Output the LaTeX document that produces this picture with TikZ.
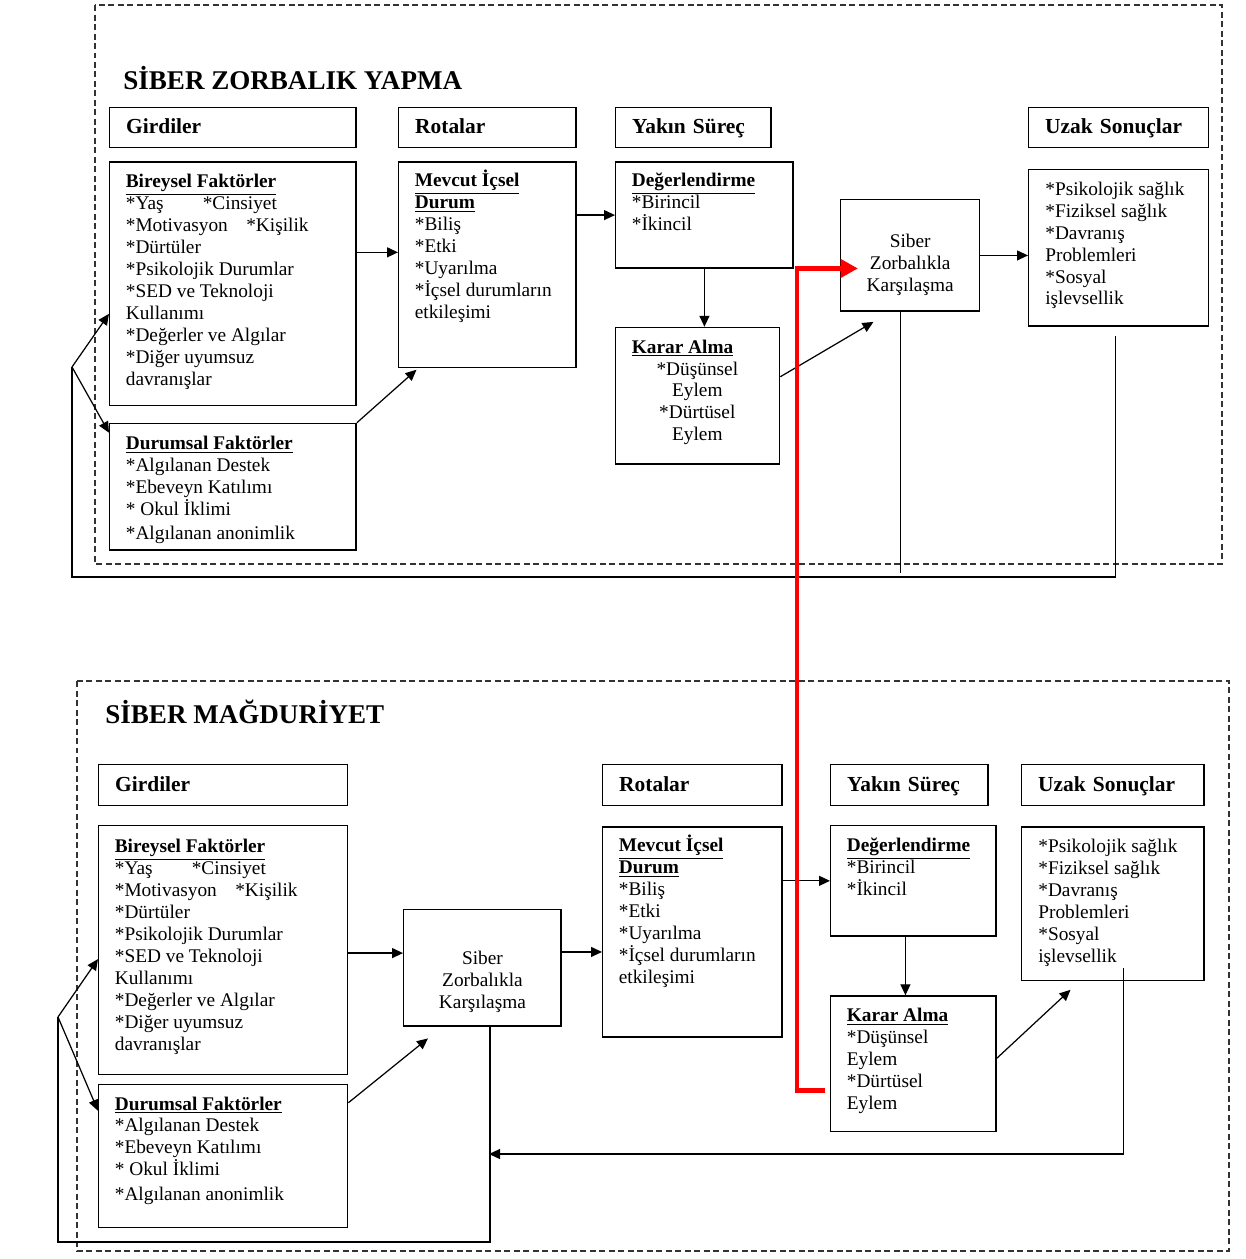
\documentclass[tikz,border=0pt]{standalone}
\usepackage{fontspec}
\setmainfont{Liberation Serif}
\usepackage{tikz}
\usetikzlibrary{positioning,arrows.meta}

\tikzset{
    frame/.style={draw=black!80, line width=0.7pt, dash pattern=on 0.12cm off 0.07cm},
    title/.style={anchor=base west, inner sep=0pt, font=\bfseries\fontsize{15.4}{18}\selectfont},
    head/.style={draw, line width=0.8pt, anchor=north west, minimum height=0.8cm, inner xsep=0.33cm, inner ysep=0pt, text width=#1, text height=0.68em, text depth=0pt, align=left, font=\bfseries\fontsize{12.2}{14}\selectfont},
    body/.style 2 args={draw, line width=0.8pt, anchor=north west, minimum width=#1, minimum height=#2, inner sep=0pt},
    txt/.style={align=left, inner sep=0pt, font=\fontsize{11}{12.5}\selectfont},
    line/.style={draw, line width=0.7pt},
    arr/.style={line, -{Triangle[length=0.22cm,width=0.2cm]}},
    redarr/.style={draw=red, line width=2.8pt, -{Triangle[length=0.35cm,width=0.36cm]}},
}

\begin{document}
\begin{tikzpicture}[x=0.02cm, y=-0.02cm]

    \useasboundingbox (0,0) rectangle (1246,1259);

    % frames
    \draw[frame] (95,5) rectangle (1222,564);
    \draw[frame] (77,681) rectangle (1229,1251);

    % titles
    \node[title] (ttl1) at (123,89) {SİBER ZORBALIK YAPMA};
    \node[title] (ttl2) at (105,723) {SİBER MAĞDURİYET};

    % headers, top
    \node[head=4.27cm] (gir1) at (109,107) {Girdiler};
    \node[head=2.89cm] (rot1) at (398,107) {Rotalar};
    \node[head=2.45cm] (yak1) at (615,107) {Yakın Süreç};
    \node[head=2.94cm] (uza1) at (1028,107) {Uzak Sonuçlar};

    % boxes, top
    \node[below=0.26cm of gir1.south west, body={4.93cm}{4.87cm}] (bir1) {};
    \node[below=0.33cm of bir1.south west, body={4.93cm}{2.53cm}] (dur1) {};
    \node[below=0.26cm of rot1.south west, body={3.55cm}{4.11cm}] (mev1) {};
    \node[below=0.26cm of yak1.south west, body={3.55cm}{2.12cm}] (deg1) {};
    \node[below=1.16cm of deg1.south west, body={3.28cm}{2.73cm}] (kar1) {};
    \node[body={2.78cm}{2.23cm}] (sib1) at (840,199) {};
    \node[below=0.41cm of uza1.south west, body={3.6cm}{3.13cm}] (son1) {};

    % texts, top
    \node[txt, below right=0.25cm and 0.33cm of bir1.north west] (bir1t) {\underline{\textbf{Bireysel Faktörler}}\\{}\makebox[1.54cm][l]{*Yaş}*Cinsiyet\\{}\makebox[2.41cm][l]{*Motivasyon}*Kişilik\\{}*Dürtüler\\{}*Psikolojik Durumlar\\{}*SED ve Teknoloji\\{}Kullanımı\\{}*Değerler ve Algılar\\{}*Diğer uyumsuz\\{}davranışlar};
    \node[txt, below right=0.26cm and 0.33cm of dur1.north west] (dur1t) {\underline{\textbf{Durumsal Faktörler}}\\{}*Algılanan Destek\\{}*Ebeveyn Katılımı\\{}* Okul İklimi\\[0.04cm]{}*Algılanan anonimlik};
    \node[txt, below right=0.17cm and 0.33cm of mev1.north west] (mev1t) {\underline{\textbf{Mevcut İçsel}}\\{}\underline{\textbf{Durum}}\\{}*Biliş\\{}*Etki\\{}*Uyarılma\\{}*İçsel durumların\\{}etkileşimi};
    \node[txt, below right=0.23cm and 0.33cm of deg1.north west] (deg1t) {\underline{\textbf{Değerlendirme}}\\{}*Birincil\\{}*İkincil};
    \node[txt, align=center, below right=0.25cm and 0.33cm of kar1.north west] (kar1t) {\makebox[2.62cm][l]{\underline{\textbf{Karar Alma}}}\\{}*Düşünsel\\{}Eylem\\{}*Dürtüsel\\{}Eylem};
    \node[txt, align=center] (sib1t) at ([yshift=-0.18cm]sib1.center) {Siber\\{}Zorbalıkla\\{}Karşılaşma};
    \node[txt, below right=0.25cm and 0.34cm of son1.north west] (son1t) {*Psikolojik sağlık\\{}*Fiziksel sağlık\\{}*Davranış\\{}Problemleri\\{}*Sosyal\\{}işlevsellik};

    % the connections, top
    \draw[arr] ([yshift=0.63cm]bir1.east) -- ([yshift=0.63cm]bir1.east -| mev1.west);
    \draw[arr] (dur1.north east) -- ([xshift=0.37cm,yshift=-0.03cm]mev1.south west);
    \draw[arr] (mev1.east |- deg1.west) -- (deg1.west);
    \draw[arr] (deg1.south) -- (deg1.south |- kar1.north);
    \draw[arr] ([yshift=0.38cm]kar1.east) -- ([xshift=0.67cm,yshift=-0.2cm]sib1.south west);
    \draw[arr] (sib1.east) -- (sib1.east -| son1.west);

    % feedback, top
    \coordinate (fb1) at (72,367);
    \coordinate (fb1b) at (72,577);
    \draw[line] ([xshift=-0.07cm,yshift=-0.19cm]son1.south) |- (fb1b) -- (fb1);
    \draw[line] ([xshift=-0.19cm]sib1.south) -- ++(0,-5.22cm);
    \draw[arr] (fb1) -- ([yshift=-0.6cm]bir1.west);
    \draw[arr] (fb1) -- ([yshift=-0.2cm]dur1.north west);

    % headers, bottom
    \node[head=4.32cm, minimum height=0.82cm] (gir2) at (98,764) {Girdiler};
    \node[head=2.93cm, minimum height=0.82cm] (rot2) at (602,764) {Rotalar};
    \node[head=2.49cm, minimum height=0.82cm] (yak2) at (830,764) {Yakın Süreç};
    \node[head=2.99cm, minimum height=0.82cm] (uza2) at (1021,764) {Uzak Sonuçlar};

    % boxes, bottom
    \node[below=0.37cm of gir2.south west, body={4.98cm}{4.98cm}] (bir2) {};
    \node[below=0.17cm of bir2.south west, body={4.98cm}{2.86cm}] (dur2) {};
    \node[body={3.15cm}{2.33cm}] (sib2) at (403,909) {};
    \node[below=0.4cm of rot2.south west, body={3.59cm}{4.2cm}] (mev2) {};
    \node[below=0.37cm of yak2.south west, body={3.31cm}{2.21cm}] (deg2) {};
    \node[below=1.17cm of deg2.south west, body={3.31cm}{2.71cm}] (kar2) {};
    \node[below=0.4cm of uza2.south west, body={3.65cm}{3.07cm}] (son2) {};

    % texts, bottom
    \node[txt, below right=0.28cm and 0.33cm of bir2.north west] (bir2t) {\underline{\textbf{Bireysel Faktörler}}\\{}\makebox[1.54cm][l]{*Yaş}*Cinsiyet\\{}\makebox[2.41cm][l]{*Motivasyon}*Kişilik\\{}*Dürtüler\\{}*Psikolojik Durumlar\\{}*SED ve Teknoloji\\{}Kullanımı\\{}*Değerler ve Algılar\\{}*Diğer uyumsuz\\{}davranışlar};
    \node[txt, below right=0.25cm and 0.33cm of dur2.north west] (dur2t) {\underline{\textbf{Durumsal Faktörler}}\\{}*Algılanan Destek\\{}*Ebeveyn Katılımı\\{}* Okul İklimi\\[0.06cm]{}*Algılanan anonimlik};
    \node[txt, align=center] (sib2t) at ([yshift=-0.28cm]sib2.center) {Siber\\{}Zorbalıkla\\{}Karşılaşma};
    \node[txt, below right=0.17cm and 0.33cm of mev2.north west] (mev2t) {\underline{\textbf{Mevcut İçsel}}\\{}\underline{\textbf{Durum}}\\{}*Biliş\\{}*Etki\\{}*Uyarılma\\{}*İçsel durumların\\{}etkileşimi};
    \node[txt, below right=0.25cm and 0.33cm of deg2.north west] (deg2t) {\underline{\textbf{Değerlendirme}}\\{}*Birincil\\{}*İkincil};
    \node[txt, below right=0.25cm and 0.33cm of kar2.north west] (kar2t) {\underline{\textbf{Karar Alma}}\\{}*Düşünsel\\{}Eylem\\{}*Dürtüsel\\{}Eylem};
    \node[txt, below right=0.25cm and 0.34cm of son2.north west] (son2t) {*Psikolojik sağlık\\{}*Fiziksel sağlık\\{}*Davranış\\{}Problemleri\\{}*Sosyal\\{}işlevsellik};

    % the connections, bottom
    \draw[arr] ([yshift=-0.06cm]bir2.east) -- ([yshift=-0.06cm]bir2.east -| sib2.west);
    \draw[arr] ([yshift=-0.38cm]dur2.north east) -- ([xshift=0.5cm,yshift=-0.23cm]sib2.south west);
    \draw[arr] ([yshift=0.32cm]sib2.east) -- ([yshift=0.32cm]sib2.east -| mev2.west);
    \draw[arr] (mev2.east |- deg2.west) -- (deg2.west);
    \draw[arr] ([xshift=-0.16cm]deg2.south) -- ([xshift=-0.16cm]deg2.south |- kar2.north);
    \draw[arr] ([yshift=0.11cm]kar2.east) -- ([xshift=0.99cm,yshift=-0.17cm]son2.south west);

    % feedback, bottom
    \coordinate (lp2) at (489,1154);
    \coordinate (fb2) at (58,1017);
    \coordinate (fb2b) at (58,1242);
    \draw[arr] ([xshift=0.21cm,yshift=0.27cm]son2.south) |- (lp2);
    \draw[line] ([xshift=0.15cm]sib2.south) |- (fb2b) -- (fb2);
    \draw[arr] (fb2) -- ([yshift=-0.18cm]bir2.west);
    \draw[arr] (fb2) -- ([yshift=-0.54cm]dur2.north west);

    % red link between the two parts
    \draw[redarr] ([xshift=-0.1cm,yshift=-0.53cm]kar2.west) -- ++(-0.56cm,0) |- ([xshift=0.36cm,yshift=-0.26cm]sib1.west);

\end{tikzpicture}
\end{document}
